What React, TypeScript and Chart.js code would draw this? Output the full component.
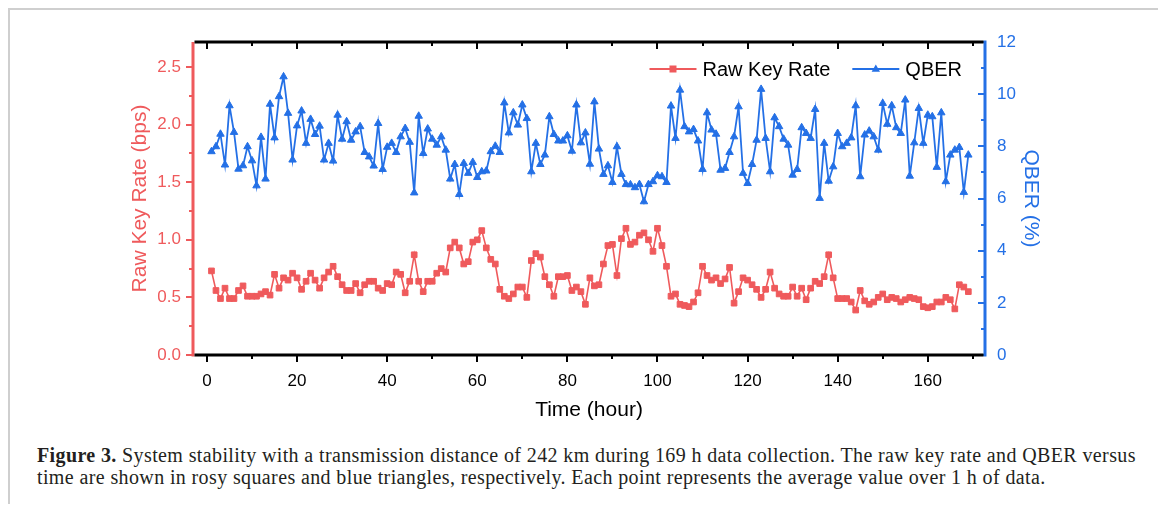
import React, { useEffect, useRef } from 'react';
import { Chart, registerables } from 'chart.js';

Chart.register(...registerables);

const HOURS = [
  1, 2, 3, 4, 5, 6, 7, 8, 9, 10, 11, 12, 13, 14, 15, 16, 17, 18, 19, 20,
  21, 22, 23, 24, 25, 26, 27, 28, 29, 30, 31, 32, 33, 34, 35, 36, 37, 38, 39, 40,
  41, 42, 43, 44, 45, 46, 47, 48, 49, 50, 51, 52, 53, 54, 55, 56, 57, 58, 59, 60,
  61, 62, 63, 64, 65, 66, 67, 68, 69, 70, 71, 72, 73, 74, 75, 76, 77, 78, 79, 80,
  81, 82, 83, 84, 85, 86, 87, 88, 89, 90, 91, 92, 93, 94, 95, 96, 97, 98, 99, 100,
  101, 102, 103, 104, 105, 106, 107, 108, 109, 110, 111, 112, 113, 114, 115, 116, 117, 118, 119, 120,
  121, 122, 123, 124, 125, 126, 127, 128, 129, 130, 131, 132, 133, 134, 135, 136, 137, 138, 139, 140,
  141, 142, 143, 144, 145, 146, 147, 148, 149, 150, 151, 152, 153, 154, 155, 156, 157, 158, 159, 160,
  161, 162, 163, 164, 165, 166, 167, 168, 169,
];

const RAW_KEY_RATE = [
  0.73, 0.56, 0.49, 0.58, 0.49, 0.49, 0.56, 0.60, 0.51, 0.51,
  0.51, 0.53, 0.55, 0.52, 0.70, 0.58, 0.67, 0.65, 0.71, 0.67,
  0.57, 0.64, 0.71, 0.65, 0.58, 0.67, 0.72, 0.77, 0.68, 0.61,
  0.56, 0.56, 0.62, 0.54, 0.61, 0.64, 0.64, 0.58, 0.56, 0.62,
  0.61, 0.72, 0.70, 0.54, 0.64, 0.87, 0.64, 0.55, 0.64, 0.64,
  0.71, 0.75, 0.72, 0.93, 0.98, 0.93, 0.79, 0.81, 0.98, 1.00,
  1.08, 0.93, 0.83, 0.79, 0.57, 0.51, 0.49, 0.53, 0.59, 0.59,
  0.50, 0.82, 0.88, 0.85, 0.68, 0.61, 0.51, 0.68, 0.68, 0.69,
  0.56, 0.59, 0.55, 0.44, 0.67, 0.60, 0.61, 0.79, 0.95, 0.96,
  0.69, 1.01, 1.10, 0.96, 0.98, 1.04, 1.06, 1.00, 0.90, 1.10,
  0.95, 0.77, 0.51, 0.53, 0.44, 0.43, 0.42, 0.46, 0.54, 0.77,
  0.69, 0.65, 0.67, 0.62, 0.66, 0.76, 0.45, 0.55, 0.67, 0.65,
  0.61, 0.57, 0.50, 0.57, 0.72, 0.58, 0.53, 0.51, 0.51, 0.59,
  0.51, 0.58, 0.48, 0.58, 0.64, 0.62, 0.68, 0.87, 0.67, 0.49,
  0.49, 0.49, 0.46, 0.39, 0.56, 0.47, 0.44, 0.46, 0.50, 0.53,
  0.48, 0.50, 0.49, 0.46, 0.48, 0.50, 0.49, 0.48, 0.42, 0.41,
  0.42, 0.46, 0.46, 0.50, 0.48, 0.40, 0.61, 0.59, 0.55,
];

const QBER = [
  7.80, 7.99, 8.47, 7.29, 9.56, 8.54, 7.13, 7.26, 7.99, 7.45,
  6.49, 8.35, 6.75, 9.62, 8.33, 9.91, 10.67, 9.27, 7.48, 8.79,
  9.36, 8.12, 9.04, 8.46, 8.78, 7.48, 8.12, 7.44, 9.20, 8.28,
  8.95, 8.24, 8.56, 8.76, 7.77, 7.60, 7.25, 8.88, 7.12, 7.97,
  8.12, 7.77, 8.37, 8.69, 8.16, 6.22, 9.16, 7.73, 8.67, 8.28,
  8.05, 8.37, 7.86, 6.75, 7.31, 6.16, 7.35, 6.97, 7.39, 6.81,
  7.03, 7.06, 7.80, 8.01, 7.77, 9.67, 8.52, 9.29, 8.82, 9.59,
  9.07, 7.03, 8.12, 7.31, 7.67, 9.14, 8.46, 8.21, 8.21, 8.41,
  7.82, 9.59, 8.14, 8.52, 7.32, 9.71, 7.90, 6.93, 7.26, 6.62,
  7.99, 6.93, 6.54, 6.53, 6.42, 6.54, 5.88, 6.54, 6.65, 6.88,
  6.84, 6.62, 9.55, 8.31, 10.16, 8.76, 8.56, 8.65, 8.21, 7.12,
  9.29, 8.63, 8.47, 7.09, 7.16, 7.77, 8.37, 9.52, 6.97, 6.58,
  7.31, 8.24, 10.19, 8.31, 7.03, 9.10, 8.76, 8.28, 8.05, 6.90,
  7.12, 8.72, 8.50, 8.31, 9.42, 6.01, 8.12, 6.67, 7.22, 8.50,
  7.99, 8.12, 8.33, 9.56, 6.84, 8.44, 8.59, 8.37, 7.86, 9.65,
  8.85, 9.56, 8.72, 8.50, 9.78, 6.86, 8.14, 9.46, 8.12, 9.20,
  9.14, 7.20, 9.29, 6.65, 7.67, 7.86, 7.96, 6.24, 7.67,
];

const X_TICKS = [0, 20, 40, 60, 80, 100, 120, 140, 160];
const X_MINOR_TICKS = [10, 30, 50, 70, 90, 110, 130, 150, 170];
const LEFT_TICKS = [0, 0.5, 1.0, 1.5, 2.0, 2.5];
const LEFT_MINOR_TICKS = [0.25, 0.75, 1.25, 1.75, 2.25];
const RIGHT_TICKS = [0, 2, 4, 6, 8, 10, 12];
const RIGHT_MINOR_TICKS = [1, 3, 5, 7, 9, 11];

const SERIES_NAMES = ['Raw Key Rate', 'QBER'];

const RED = '#EF5A5C';
const BLUE = '#2470E6';
const SANS = "'Liberation Sans', Arial, Helvetica, sans-serif";

const axesPlugin = {
  id: 'originAxes',
  afterDraw(chart: any) {
    const { ctx, chartArea, scales } = chart;
    const { left, right, top, bottom } = chartArea;
    const xs = scales.x;
    const yl = scales.y;
    const yr = scales.y1;
    const major = 7;
    const minor = 4;
    ctx.save();
    ctx.lineCap = 'butt';

    // left axis (red) with outward ticks
    ctx.strokeStyle = RED;
    ctx.lineWidth = 3;
    ctx.beginPath();
    ctx.moveTo(left, top);
    ctx.lineTo(left, bottom + 1.5);
    ctx.stroke();
    ctx.lineWidth = 2;
    ctx.beginPath();
    LEFT_TICKS.forEach((v) => {
      const p = Math.round(yl.getPixelForValue(v));
      ctx.moveTo(left, p);
      ctx.lineTo(left - major, p);
    });
    LEFT_MINOR_TICKS.forEach((v) => {
      const p = Math.round(yl.getPixelForValue(v));
      ctx.moveTo(left, p);
      ctx.lineTo(left - minor, p);
    });
    ctx.stroke();

    // right axis (blue) with inward ticks
    ctx.strokeStyle = BLUE;
    ctx.lineWidth = 3;
    ctx.beginPath();
    ctx.moveTo(right, top - 1.5);
    ctx.lineTo(right, bottom + 1.5);
    ctx.stroke();
    ctx.lineWidth = 2;
    ctx.beginPath();
    RIGHT_TICKS.forEach((v) => {
      const p = Math.round(yr.getPixelForValue(v));
      ctx.moveTo(right, p);
      ctx.lineTo(right - major, p);
    });
    RIGHT_MINOR_TICKS.forEach((v) => {
      const p = Math.round(yr.getPixelForValue(v));
      ctx.moveTo(right, p);
      ctx.lineTo(right - minor, p);
    });
    ctx.stroke();

    // top and bottom axes (black)
    ctx.strokeStyle = '#000';
    ctx.lineWidth = 3;
    ctx.beginPath();
    ctx.moveTo(left + 1.5, top);
    ctx.lineTo(right - 1.5, top);
    ctx.moveTo(left + 1.5, bottom);
    ctx.lineTo(right - 1.5, bottom);
    ctx.stroke();
    ctx.lineWidth = 2;
    ctx.beginPath();
    X_TICKS.forEach((v) => {
      const p = Math.round(xs.getPixelForValue(v));
      ctx.moveTo(p, bottom);
      ctx.lineTo(p, bottom + major);
      ctx.moveTo(p, top);
      ctx.lineTo(p, top + major);
    });
    X_MINOR_TICKS.forEach((v) => {
      const p = Math.round(xs.getPixelForValue(v));
      ctx.moveTo(p, bottom);
      ctx.lineTo(p, bottom + minor);
      ctx.moveTo(p, top);
      ctx.lineTo(p, top + minor);
    });
    ctx.stroke();
    ctx.restore();
  },
};

const legendPlugin = {
  id: 'insideLegend',
  afterDraw(chart: any) {
    const { ctx, chartArea } = chart;
    ctx.save();
    ctx.font = `20px ${SANS}`;
    ctx.textBaseline = 'middle';
    ctx.textAlign = 'left';
    const cy = chartArea.top + 27;
    const symW = 47;
    const gapText = 6;
    const gapItem = 22;
    let xEnd = chartArea.right - 23;
    const items = [
      { name: SERIES_NAMES[1], color: BLUE, shape: 'triangle' },
      { name: SERIES_NAMES[0], color: RED, shape: 'rect' },
    ];
    items.forEach((it) => {
      const w = ctx.measureText(it.name).width;
      const tx = xEnd - w;
      ctx.fillStyle = '#000';
      ctx.fillText(it.name, tx, cy + 1);
      const s1 = tx - gapText;
      const s0 = s1 - symW;
      ctx.strokeStyle = it.color;
      ctx.lineWidth = 1.8;
      ctx.beginPath();
      ctx.moveTo(s0, cy);
      ctx.lineTo(s1, cy);
      ctx.stroke();
      const cx = (s0 + s1) / 2;
      ctx.fillStyle = it.color;
      if (it.shape === 'rect') {
        ctx.fillRect(cx - 3.5, cy - 3.5, 7, 7);
      } else {
        ctx.beginPath();
        ctx.moveTo(cx, cy - 4.5);
        ctx.lineTo(cx + 4.2, cy + 2.8);
        ctx.lineTo(cx - 4.2, cy + 2.8);
        ctx.closePath();
        ctx.fill();
      }
      xEnd = s0 - gapItem;
    });
    ctx.restore();
  },
};

export default function App() {
  const canvasRef = useRef<HTMLCanvasElement | null>(null);

  useEffect(() => {
    const canvas = canvasRef.current;
    if (!canvas) return;
    const chart = new Chart(canvas, {
      type: 'line',
      data: {
        datasets: [
          {
            label: SERIES_NAMES[0],
            data: HOURS.map((h, i) => ({ x: h, y: RAW_KEY_RATE[i] })),
            yAxisID: 'y',
            borderColor: RED,
            backgroundColor: RED,
            pointBackgroundColor: RED,
            pointBorderColor: RED,
            pointStyle: 'rect',
            pointRadius: 4,
            pointBorderWidth: 1,
            borderWidth: 1.6,
            tension: 0,
          },
          {
            label: SERIES_NAMES[1],
            data: HOURS.map((h, i) => ({ x: h, y: QBER[i] })),
            yAxisID: 'y1',
            borderColor: BLUE,
            backgroundColor: BLUE,
            pointBackgroundColor: BLUE,
            pointBorderColor: BLUE,
            pointStyle: 'triangle',
            pointRadius: 4.3,
            pointBorderWidth: 1,
            borderWidth: 1.8,
            tension: 0,
          },
        ],
      },
      options: {
        animation: false,
        responsive: false,
        devicePixelRatio: 1,
        layout: { padding: { left: 118, right: 119, top: 32, bottom: 7 } },
        plugins: {
          legend: { display: false },
          tooltip: { enabled: false },
        },
        scales: {
          x: {
            type: 'linear',
            position: 'bottom',
            min: -3.1,
            max: 172.7,
            grid: { display: false, drawTicks: false },
            border: { display: false },
            afterBuildTicks: (s: any) => {
              s.ticks = X_TICKS.map((v) => ({ value: v }));
            },
            afterFit: (s: any) => {
              s.height = 68;
            },
            ticks: {
              padding: 16,
              color: '#000',
              font: { family: SANS, size: 17 },
              maxRotation: 0,
              callback: (v: any) => String(v),
            },
            title: {
              display: true,
              text: 'Time (hour)',
              color: '#000',
              font: { family: SANS, size: 21 },
              padding: 0,
            },
          },
          y: {
            type: 'linear',
            position: 'left',
            min: 0,
            max: 2.717,
            grid: { display: false, drawTicks: false },
            border: { display: false },
            afterBuildTicks: (s: any) => {
              s.ticks = LEFT_TICKS.map((v) => ({ value: v }));
            },
            afterFit: (s: any) => {
              s.width = 65;
            },
            ticks: {
              padding: 12,
              color: RED,
              font: { family: SANS, size: 17 },
              callback: (v: any) => Number(v).toFixed(1),
            },
            title: {
              display: true,
              text: 'Raw Key Rate (bps)',
              color: RED,
              font: { family: SANS, size: 21 },
              padding: 0,
            },
          },
          y1: {
            type: 'linear',
            position: 'right',
            min: 0,
            max: 12,
            grid: { display: false, drawTicks: false },
            border: { display: false },
            afterBuildTicks: (s: any) => {
              s.ticks = RIGHT_TICKS.map((v) => ({ value: v }));
            },
            afterFit: (s: any) => {
              s.width = 58;
            },
            ticks: {
              padding: 12,
              color: BLUE,
              font: { family: SANS, size: 17 },
              callback: (v: any) => String(v),
            },
            title: {
              display: true,
              text: 'QBER (%)',
              color: BLUE,
              font: { family: SANS, size: 21 },
              padding: 0,
            },
          },
        },
      },
      plugins: [axesPlugin, legendPlugin],
    } as any);
    return () => {
      chart.destroy();
    };
  }, []);

  return (
    <div
      style={{
        position: 'relative',
        width: 1156,
        height: 496,
        boxSizing: 'border-box',
        borderTop: '2px solid #cfcfcf',
        borderLeft: '2px solid #cfcfcf',
        borderRight: '2px solid #cfcfcf',
        overflow: 'hidden',
        background: '#fff',
      }}
    >
      <canvas
        ref={canvasRef}
        width={1152}
        height={420}
        style={{ position: 'absolute', left: 0, top: 0, width: 1152, height: 420 }}
      />
      <div
        style={{
          position: 'absolute',
          left: 27,
          top: 434,
          fontFamily: "'Liberation Serif', 'Times New Roman', serif",
          fontSize: 20,
          letterSpacing: '0.38px',
          lineHeight: '22px',
          color: '#231f20',
          whiteSpace: 'nowrap',
        }}
      >
        <b>Figure 3.</b> System stability with a transmission distance of 242 km during 169 h data collection. The raw key rate and QBER versus
        <br />
        time are shown in rosy squares and blue triangles, respectively. Each point represents the average value over 1 h of data.
      </div>
    </div>
  );
}
